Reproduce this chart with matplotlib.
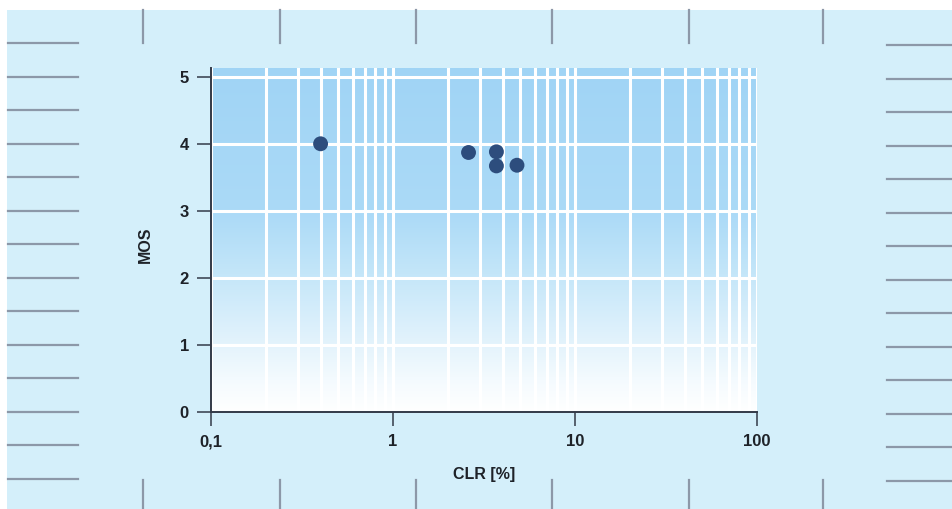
import numpy as np
import matplotlib
matplotlib.use("Agg")
import matplotlib.pyplot as plt
from matplotlib.colors import LinearSegmentedColormap
from matplotlib.lines import Line2D
from matplotlib.patches import Rectangle

plt.rcParams['font.family'] = ['Liberation Sans', 'DejaVu Sans']

# measured points
clr = [0.4, 2.6, 3.7, 3.7, 4.8]
mos = [4.0, 3.87, 3.88, 3.67, 3.68]

x_ticks = [0.1, 1, 10, 100]
x_labels = ["0,1", "1", "10", "100"]
y_ticks = [0, 1, 2, 3, 4, 5]

W, H = 953, 509
fig = plt.figure(figsize=(W / 100, H / 100), dpi=100, facecolor="white")

# page background (scanned sheet)
fig.add_artist(Rectangle((7 / W, 0), 1 - 7 / W, 1 - 10 / H, transform=fig.transFigure,
                         facecolor="#d4effa", edgecolor="none", zorder=0))

# ruler marks around the page
deco = "#8c98a8"
for k in range(14):
    yl = 1 - (43 + k * 33.5) / H
    yr = 1 - (45 + k * 33.5) / H
    fig.add_artist(Line2D([8 / W, 78 / W], [yl, yl], transform=fig.transFigure,
                          color=deco, lw=1.6, zorder=1))
    fig.add_artist(Line2D([887 / W, 1], [yr, yr], transform=fig.transFigure,
                          color=deco, lw=1.6, zorder=1))
for xp in [143, 280, 416, 552, 689, 823]:
    fig.add_artist(Line2D([xp / W, xp / W], [1 - 10 / H, 1 - 43 / H], transform=fig.transFigure,
                          color=deco, lw=1.6, zorder=1))
    fig.add_artist(Line2D([xp / W, xp / W], [0, 1 - 480 / H], transform=fig.transFigure,
                          color=deco, lw=1.6, zorder=1))

ax = fig.add_axes([211 / W, 1 - 412 / H, 546 / W, 344 / H])
ax.set_xscale("log")
ax.set_facecolor("none")

# blue to white gradient behind the grid
cmap = LinearSegmentedColormap.from_list("bg", [
    (0.0, "#ffffff"), (0.1, "#f3fafe"), (0.2, "#e3f3fc"),
    (0.4, "#c4e6f9"), (0.58, "#abdaf7"), (1.0, "#a0d4f5")])
grad = np.linspace(0, 1, 256).reshape(-1, 1)
ax.imshow(grad, extent=(0, 1, 0, 1), transform=ax.transAxes, origin="lower",
          aspect="auto", cmap=cmap, zorder=0)

ax.set_xlim(0.1, 100)
ax.set_ylim(0, 5.13)

ax.grid(True, which="both", axis="x", color="white", lw=2.2, zorder=1)
ax.grid(True, which="major", axis="y", color="white", lw=2.2, zorder=1)
ax.set_axisbelow(False)

ax.scatter(clr, mos, s=115, color="#2d4d7d", edgecolor="none", zorder=3)

ax.set_xticks(x_ticks)
ax.set_xticklabels(x_labels)
ax.set_yticks(y_ticks)
ax.minorticks_on()
ax.tick_params(axis="x", which="minor", length=0)
ax.yaxis.set_minor_locator(matplotlib.ticker.NullLocator())
ax.tick_params(axis="both", which="major", direction="out", length=10, width=1.1,
               color="#333a48", labelsize=12, labelcolor="#1e2228", pad=6)
for lab in ax.get_xticklabels() + ax.get_yticklabels():
    lab.set_fontweight("bold")

for s in ["top", "right"]:
    ax.spines[s].set_visible(False)
for s in ["left", "bottom"]:
    ax.spines[s].set_color("#333a48")
    ax.spines[s].set_linewidth(1.4)
    ax.spines[s].set_zorder(4)

fig.text(145 / W, 1 - 245 / H, "MOS", rotation=90, ha="center", va="center",
         fontsize=11.5, fontweight="bold", color="#1e2228")
fig.text(484 / W, 1 - 474 / H, "CLR [%]", ha="center", va="center",
         fontsize=11.5, fontweight="bold", color="#1e2228")

fig.savefig("out.png", dpi=100, facecolor=fig.get_facecolor())
